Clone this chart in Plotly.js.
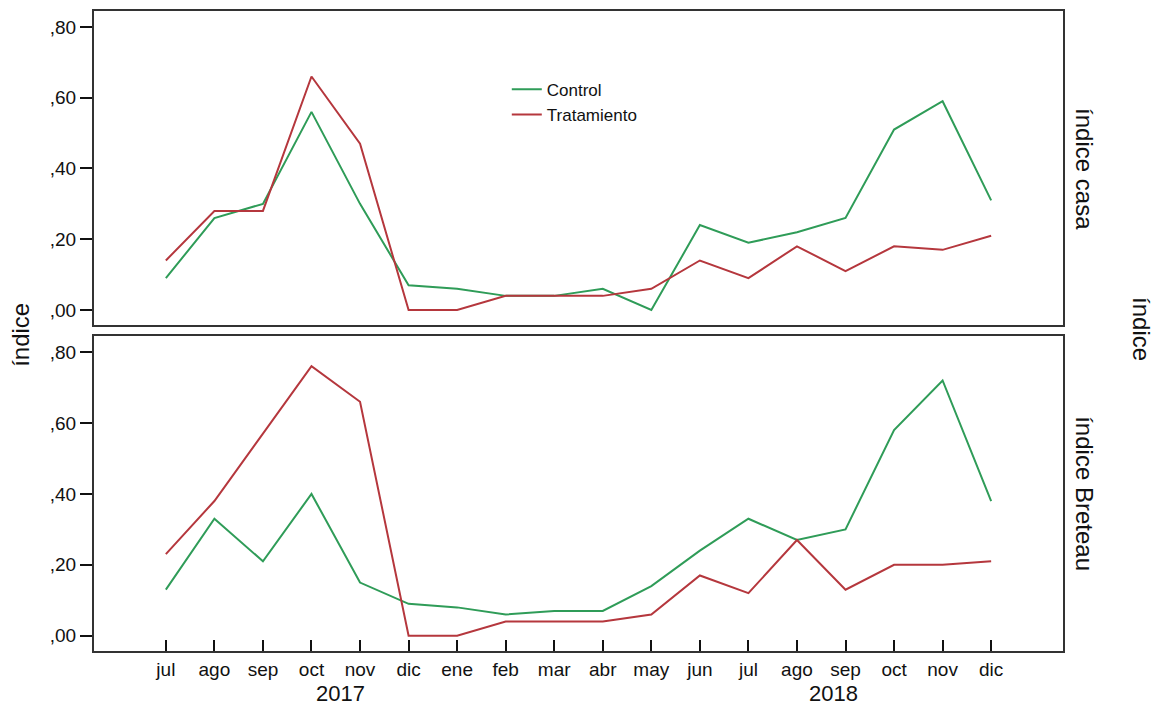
<!DOCTYPE html>
<html>
<head>
<meta charset="utf-8">
<script src="https://cdn.plot.ly/plotly-3.0.1.min.js"></script>
<style>html,body{margin:0;padding:0;background:#fff;}#chart{width:1161px;height:708px;}</style>
</head>
<body>
<div id="chart"></div>
<script>
// Month categories (jul 2017 .. dic 2018)
const months = ["jul","ago","sep","oct","nov","dic","ene","feb","mar","abr","may","jun","jul","ago","sep","oct","nov","dic"];
const years = ["2017", "2018"];

// Índice casa (top panel)
const casaControl     = [0.09,0.26,0.30,0.56,0.30,0.07,0.06,0.04,0.04,0.06,0.00,0.24,0.19,0.22,0.26,0.51,0.59,0.31];
const casaTratamiento = [0.14,0.28,0.28,0.66,0.47,0.00,0.00,0.04,0.04,0.04,0.06,0.14,0.09,0.18,0.11,0.18,0.17,0.21];

// Índice Breteau (bottom panel)
const breteauControl     = [0.13,0.33,0.21,0.40,0.15,0.09,0.08,0.06,0.07,0.07,0.14,0.24,0.33,0.27,0.30,0.58,0.72,0.38];
const breteauTratamiento = [0.23,0.38,0.57,0.76,0.66,0.00,0.00,0.04,0.04,0.04,0.06,0.17,0.12,0.27,0.13,0.20,0.20,0.21];

const yTickVals = [0, 0.2, 0.4, 0.6, 0.8];
const yTickText = [",00", ",20", ",40", ",60", ",80"];

const idx = months.map((m, i) => i);
const GREEN = "#2f9c58";
const RED = "#b5373d";
const FONT = "Liberation Sans, Arial, sans-serif";

const traces = [
  {x: idx, y: casaControl, mode: "lines", name: "Control", line: {color: GREEN, width: 2}, xaxis: "x2", yaxis: "y2"},
  {x: idx, y: casaTratamiento, mode: "lines", name: "Tratamiento", line: {color: RED, width: 2}, xaxis: "x2", yaxis: "y2"},
  {x: idx, y: breteauControl, mode: "lines", name: "Control", line: {color: GREEN, width: 2}, xaxis: "x", yaxis: "y", showlegend: false},
  {x: idx, y: breteauTratamiento, mode: "lines", name: "Tratamiento", line: {color: RED, width: 2}, xaxis: "x", yaxis: "y", showlegend: false}
];

const xRange = [-1.48, months.length - 1 + 1.48];
const yRange = [-0.043, 0.845];

const yAxisCommon = {
  range: yRange, tickvals: yTickVals, ticktext: yTickText,
  ticks: "outside", ticklen: 12, tickwidth: 2, tickcolor: "#111",
  showline: true, linecolor: "#333", linewidth: 2, mirror: true,
  showgrid: false, zeroline: false,
  tickfont: {family: FONT, size: 19, color: "#111"}
};

const layout = {
  width: 1161, height: 708,
  margin: {l: 94, r: 98, t: 11, b: 57},
  paper_bgcolor: "#fff", plot_bgcolor: "#fff",
  font: {family: FONT, color: "#111"},
  showlegend: true,
  legend: {x: 0.426, y: 0.905, xanchor: "left", yanchor: "top", bgcolor: "rgba(0,0,0,0)", borderwidth: 0,
           tracegroupgap: 0, traceorder: "normal",
           font: {family: FONT, size: 17, color: "#111"}},
  xaxis: {
    domain: [0, 1], range: xRange, tickvals: idx, ticktext: months,
    ticks: "inside", ticklen: 11, tickwidth: 2, tickcolor: "#111",
    showline: true, linecolor: "#333", linewidth: 2, mirror: true,
    showgrid: false, zeroline: false, anchor: "y",
    tickfont: {family: FONT, size: 19, color: "#111"}
  },
  yaxis: Object.assign({domain: [0, 0.492], anchor: "x"}, yAxisCommon),
  xaxis2: {
    domain: [0, 1], range: xRange, showticklabels: false, ticks: "",
    showline: true, linecolor: "#333", linewidth: 2, mirror: true,
    showgrid: false, zeroline: false, anchor: "y2"
  },
  yaxis2: Object.assign({domain: [0.509, 1], anchor: "x2"}, yAxisCommon),
  annotations: [
    {text: years[0], xref: "paper", yref: "paper", x: 0.254, y: -0.066, xanchor: "center", yanchor: "middle", showarrow: false, font: {family: FONT, size: 22, color: "#111"}},
    {text: years[1], xref: "paper", yref: "paper", x: 0.763, y: -0.066, xanchor: "center", yanchor: "middle", showarrow: false, font: {family: FONT, size: 22, color: "#111"}},
    {text: "índice", xref: "paper", yref: "paper", x: -0.0753, y: 0.494, xanchor: "center", yanchor: "middle", textangle: -90, showarrow: false, font: {family: FONT, size: 24, color: "#111"}},
    {text: "índice casa", xref: "paper", yref: "paper", x: 1.0227, y: 0.753, xanchor: "center", yanchor: "middle", textangle: 90, showarrow: false, font: {family: FONT, size: 24, color: "#111"}},
    {text: "índice Breteau", xref: "paper", yref: "paper", x: 1.0227, y: 0.245, xanchor: "center", yanchor: "middle", textangle: 90, showarrow: false, font: {family: FONT, size: 24, color: "#111"}},
    {text: "índice", xref: "paper", yref: "paper", x: 1.0815, y: 0.503, xanchor: "center", yanchor: "middle", textangle: 90, showarrow: false, font: {family: FONT, size: 24, color: "#111"}}
  ]
};

Plotly.newPlot("chart", traces, layout, {displayModeBar: false, staticPlot: true});
</script>
</body>
</html>
